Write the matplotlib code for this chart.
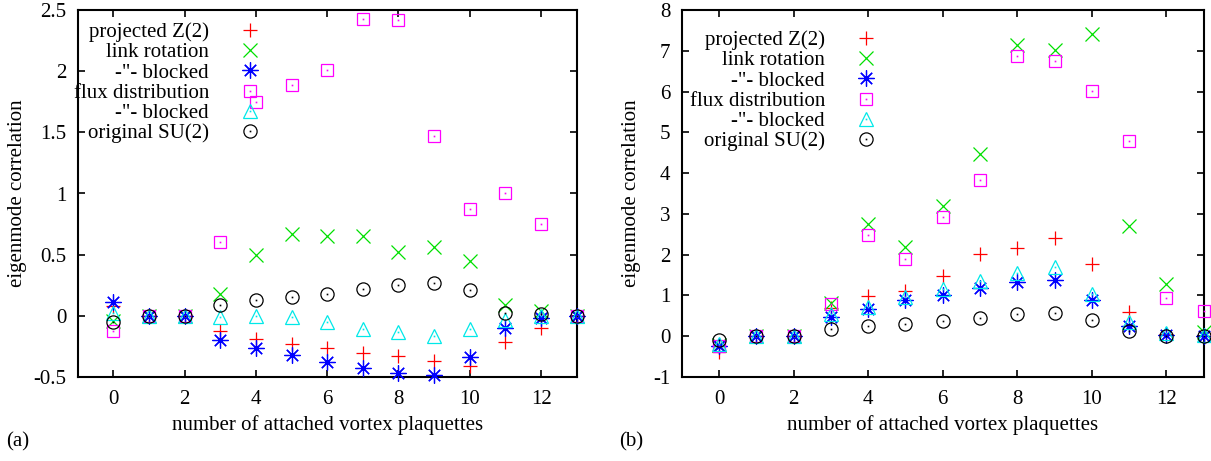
import numpy as np
import matplotlib.pyplot as plt
from matplotlib.ticker import FormatStrFormatter

plt.rcParams['font.family'] = ['Liberation Serif', 'DejaVu Serif']
plt.rcParams['font.size'] = 15
plt.rcParams['axes.unicode_minus'] = False

x = np.arange(14)

LABELS = ['projected Z(2)', 'link rotation', '-"- blocked',
          'flux distribution', '-"- blocked', 'original SU(2)']

# panel (a)
a_z2 = [0.08, 0, 0, -0.12, -0.19, -0.23, -0.26, -0.30, -0.33, -0.37, -0.41, -0.21, -0.10, 0]
a_rot = [-0.04, 0, 0, 0.18, 0.50, 0.67, 0.65, 0.65, 0.52, 0.56, 0.45, 0.09, 0.04, 0]
a_rot_bl = [0.11, 0, 0, -0.20, -0.26, -0.32, -0.38, -0.43, -0.47, -0.48, -0.34, -0.10, -0.02, 0]
a_flux = [-0.12, 0, 0, 0.60, 1.75, 1.89, 2.01, 2.43, 2.42, 1.47, 0.87, 1.00, 0.75, 0]
a_flux_bl = [0.02, 0, 0, -0.01, 0.0, -0.01, -0.05, -0.105, -0.135, -0.165, -0.11, -0.03, 0.0, 0]
a_su2 = [-0.05, 0, 0, 0.09, 0.13, 0.155, 0.18, 0.22, 0.25, 0.27, 0.215, 0.025, 0.015, 0]

# panel (b)
b_z2 = [-0.38, 0, 0, 0.70, 0.98, 1.12, 1.47, 2.02, 2.17, 2.40, 1.76, 0.60, 0.05, 0]
b_rot = [-0.22, 0, 0, 0.81, 2.75, 2.18, 3.19, 4.47, 7.14, 7.02, 7.40, 2.70, 1.29, 0.10]
b_rot_bl = [-0.25, 0, 0, 0.47, 0.67, 0.88, 1.02, 1.19, 1.33, 1.37, 0.88, 0.26, 0.03, 0]
b_flux = [-0.23, 0, 0, 0.78, 2.49, 1.90, 2.92, 3.84, 6.87, 6.76, 6.01, 4.78, 0.94, 0.61]
b_flux_bl = [-0.20, 0, 0, 0.55, 0.72, 0.95, 1.17, 1.35, 1.55, 1.70, 1.04, 0.36, 0.08, 0.03]
b_su2 = [-0.085, 0, 0, 0.18, 0.24, 0.29, 0.37, 0.45, 0.55, 0.56, 0.39, 0.14, 0.01, 0]

STYLES = [
    dict(marker='+', color='#ff0000', ms=9.5, dot=False),
    dict(marker='x', color='#00e000', ms=9.5, dot=False),
    dict(marker=(8, 2, 0), color='#0000ff', ms=11.5, dot=False),
    dict(marker='s', color='#ff00ff', ms=9, dot=True),
    dict(marker='^', color='#00e8e8', ms=9.5, dot=True),
    dict(marker='o', color='#000000', ms=9.5, dot=True),
]


def draw(ax, series, ylim, yticks, leg_anchor):
    handles = []
    for y, st in zip(series, STYLES):
        h = ax.plot(x, y, ls='none', marker=st['marker'], ms=st['ms'], mec=st['color'],
                    mfc='none', mew=0.9, clip_on=False, zorder=3)[0]
        if st['dot']:
            d = ax.plot(x, y, ls='none', marker='s', ms=1.2, mec='none', mfc=st['color'],
                        clip_on=False, zorder=3)[0]
            handles.append((h, d))
        else:
            handles.append(h)
    ax.set_xlim(-1, 13)
    ax.set_ylim(*ylim)
    ax.set_xticks(np.arange(0, 13, 2))
    ax.set_yticks(yticks)
    ax.yaxis.set_major_formatter(FormatStrFormatter('%g'))
    ax.tick_params(direction='in', length=5, width=1.2, top=True, right=True,
                   labelsize=15)
    ax.tick_params(axis='y', pad=8)
    ax.tick_params(axis='x', pad=9)
    for s in ax.spines.values():
        s.set_linewidth(1.5)
    ax.set_xlabel('number of attached vortex plaquettes', fontsize=15)
    ax.set_ylabel('eigenmode correlation', fontsize=15)
    ax.legend(handles, LABELS, loc='upper right', bbox_to_anchor=leg_anchor,
              markerfirst=False, frameon=False, numpoints=1, handlelength=1.0,
              handletextpad=1.47, labelspacing=0.03, borderpad=0, borderaxespad=0,
              fontsize=15)


fig = plt.figure(figsize=(12.11, 4.61), dpi=100)

ax1 = fig.add_axes([77.7 / 1211, 1 - 377 / 461, 499 / 1211, 367 / 461])
draw(ax1, [a_z2, a_rot, a_rot_bl, a_flux, a_flux_bl, a_su2],
     (-0.5, 2.5), np.arange(-0.5, 2.51, 0.5), (0.366, 0.966))
ax1.yaxis.set_label_coords(-51 / 499, 0.5)
ax1.xaxis.set_label_coords(0.5, -38 / 367)

ax2 = fig.add_axes([681.7 / 1211, 1 - 377 / 461, 522 / 1211, 367 / 461])
draw(ax2, [b_z2, b_rot, b_rot_bl, b_flux, b_flux_bl, b_su2],
     (-1, 8), np.arange(-1, 9, 1), (0.373, 0.944))
ax2.yaxis.set_label_coords(-41 / 522, 0.5)
ax2.xaxis.set_label_coords(0.5, -38 / 367)

fig.text(6 / 1211, 1 - 442 / 461, '(a)', fontsize=15, va='center', ha='left')
fig.text(619 / 1211, 1 - 442 / 461, '(b)', fontsize=15, va='center', ha='left')

fig.savefig('out.png', dpi=100)
